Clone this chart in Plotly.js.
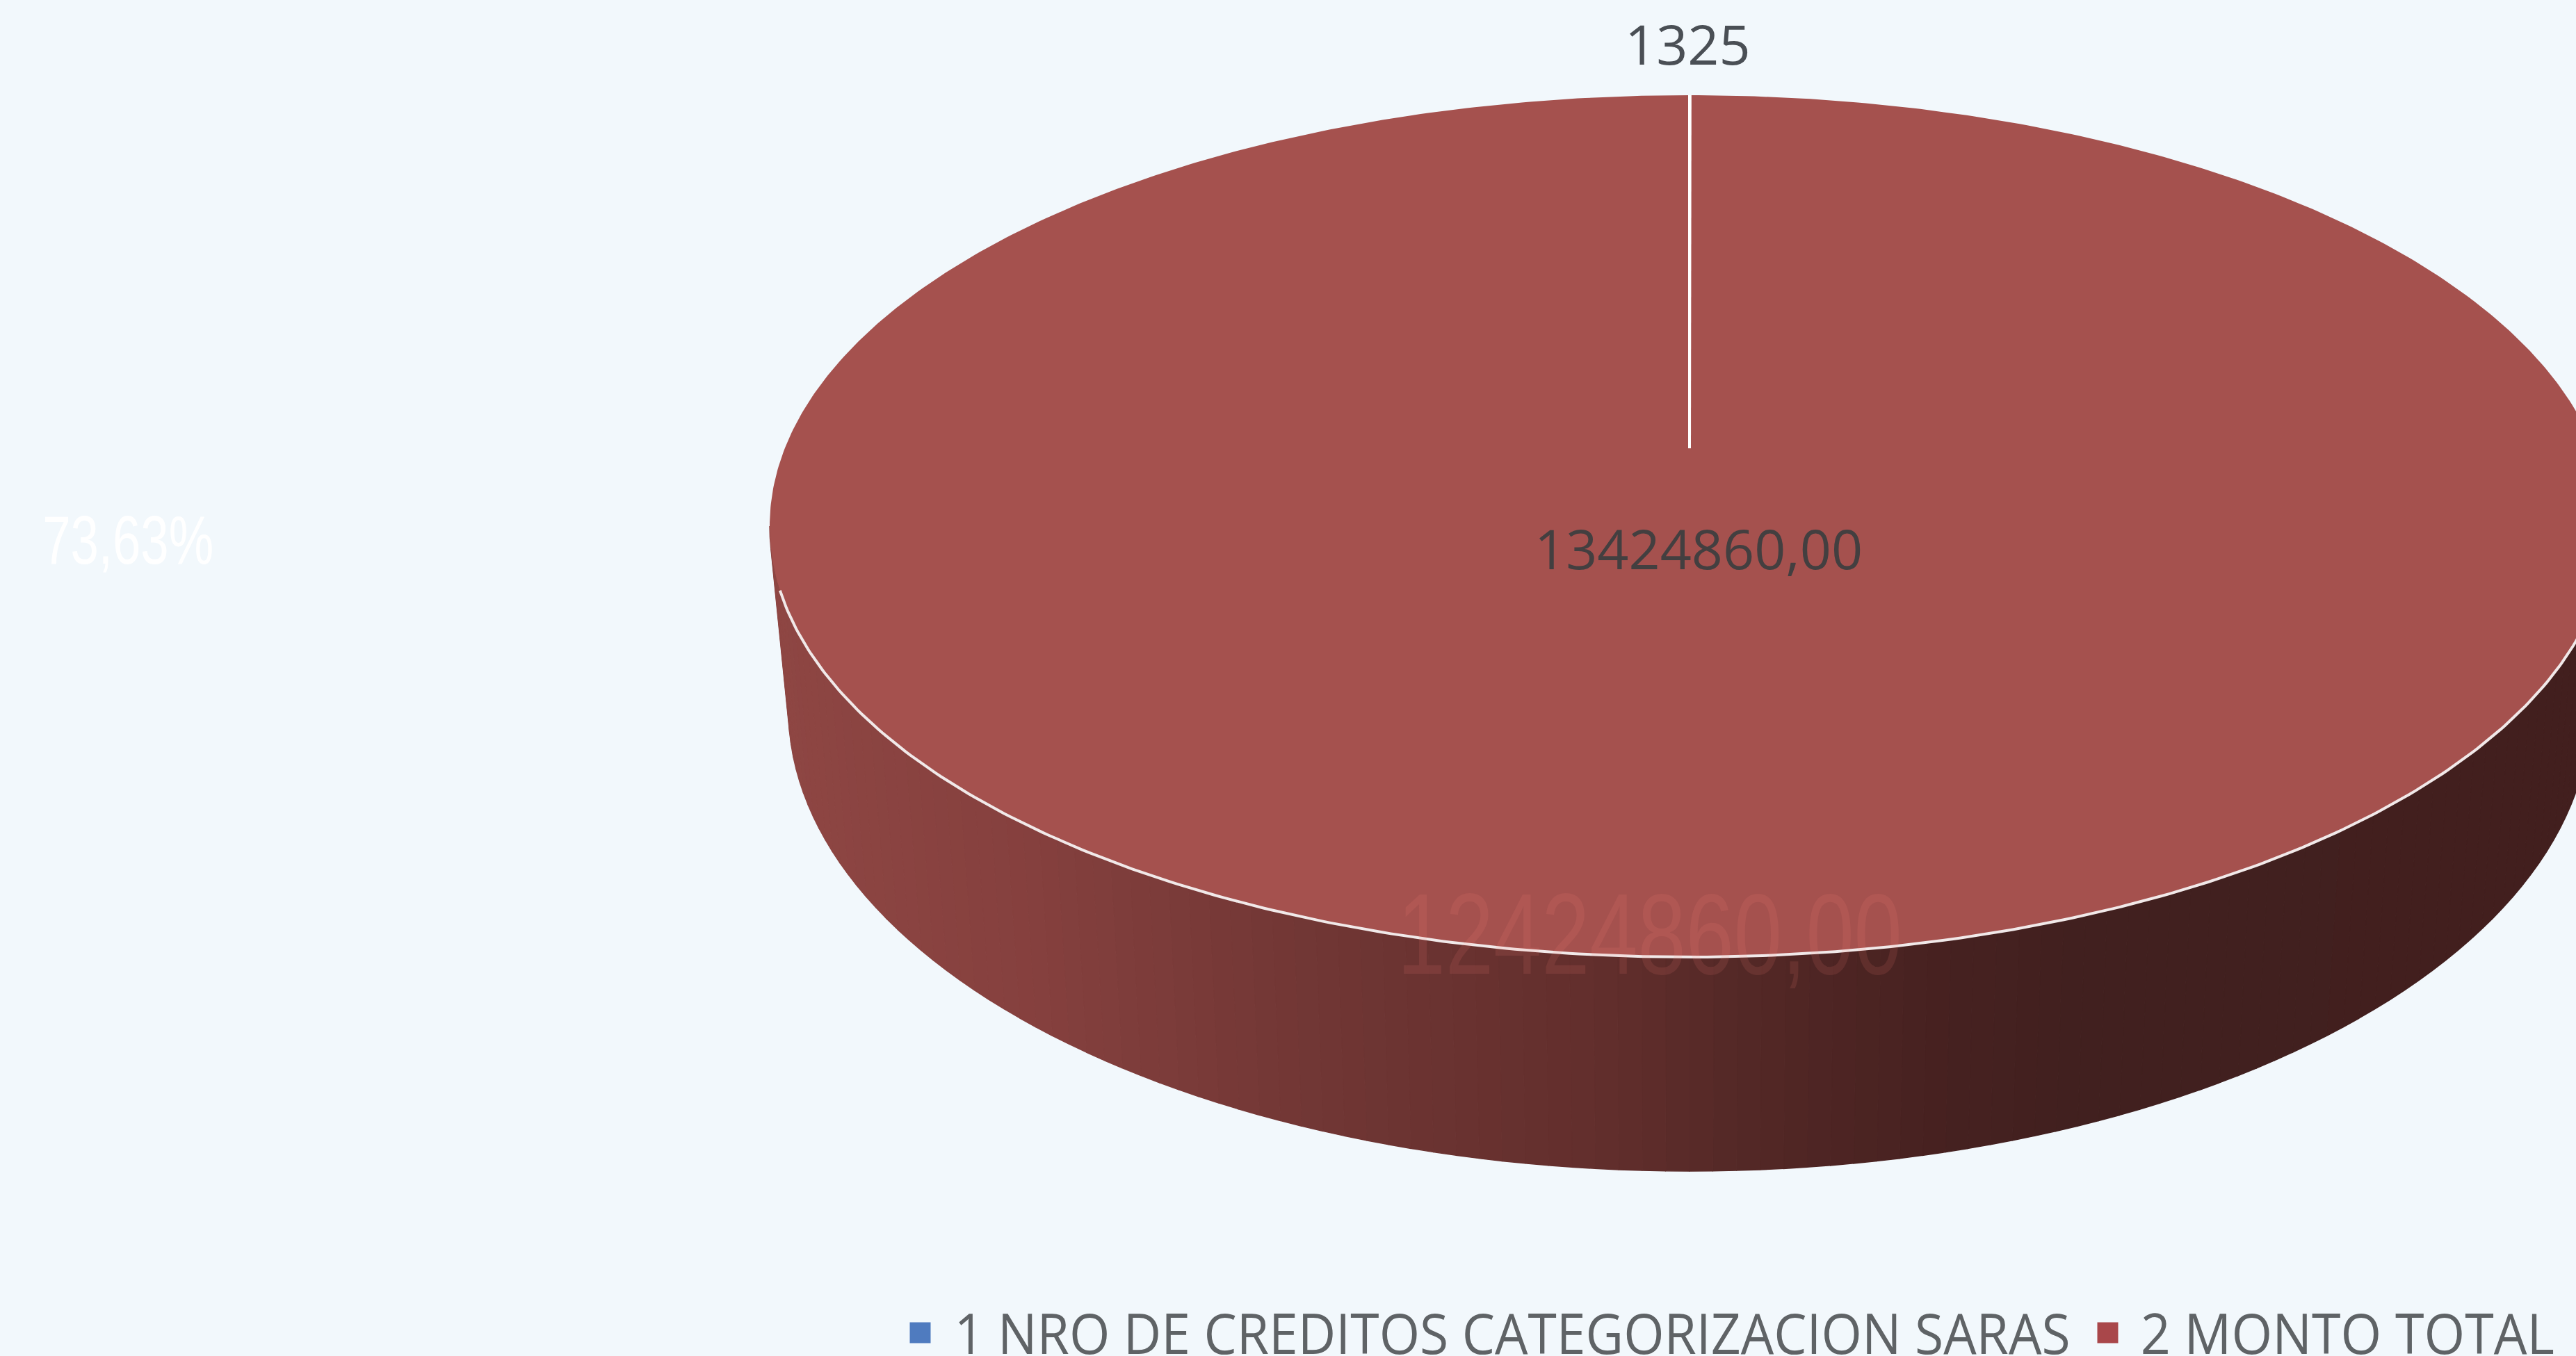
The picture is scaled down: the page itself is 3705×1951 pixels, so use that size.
<!DOCTYPE html>
<html>
<head>
<meta charset="utf-8">
<script src="https://cdn.plot.ly/plotly-3.0.1.min.js"></script>
<style>html,body{margin:0;padding:0;background:#f2f8fc;overflow:hidden}</style>
</head>
<body>
<div id="chart" style="width:3705px;height:1951px"></div>
<script>
const categories = ["1 NRO DE CREDITOS CATEGORIZACION SARAS", "2 MONTO TOTAL"];
const values = [1325, 13424860];
const valueLabels = ["1325", "13424860,00"];
const percentLabel = "73,63%";
const ghostLabel = "12424860,00";
const sliceColors = ["#4f7bbf", "#a5514e"];

const W = 3705, H = 1951;
const cx = 2430, topCy = 757, topA = 1323, topB = 620, apexY = 645;
const botCy = 1020, botA = 1296, botB = 665;
const total = values.reduce((a, b) => a + b, 0);

function topPt(theta) { return [cx + topA * Math.sin(theta), topCy - topB * Math.cos(theta)]; }
function shade(x) {
  const stops = [[1107,[142,70,67]],[1480,[133,64,62]],[1900,[112,54,52]],[2300,[98,46,44]],[2500,[84,40,38]],[2800,[70,33,32]],[3000,[65,32,31]],[3753,[66,31,30]]];
  for (let i = 1; i < stops.length; i++) {
    if (x <= stops[i][0]) {
      const f = (x - stops[i-1][0]) / (stops[i][0] - stops[i-1][0]);
      const c = stops[i][1].map((v, k) => Math.round(stops[i-1][1][k] + f * (v - stops[i-1][1][k])));
      return "rgb(" + c.join(",") + ")";
    }
  }
  return "rgb(66,31,30)";
}

const traces = [];
// side wall
const N = 120;
for (let i = 0; i < N; i++) {
  const t0 = Math.PI * i / N, t1 = Math.PI * (i + 1) / N;
  const xs = [cx + topA*Math.cos(t0), cx + topA*Math.cos(t1), cx + botA*Math.cos(t1), cx + botA*Math.cos(t0)];
  const ys = [topCy + topB*Math.sin(t0), topCy + topB*Math.sin(t1), botCy + botB*Math.sin(t1), botCy + botB*Math.sin(t0)];
  const col = shade((xs[0] + xs[1]) / 2);
  traces.push({type:"scatter", mode:"lines", x:xs, y:ys, fill:"toself", fillcolor:col, line:{color:col, width:1.5}, showlegend:false, hoverinfo:"skip"});
}
// top face: one sector per value
let acc = 0;
const edges = [];
values.forEach((v, i) => {
  const a0 = 2*Math.PI*acc/total, a1 = 2*Math.PI*(acc+v)/total;
  const steps = Math.max(2, Math.ceil((a1-a0)/(2*Math.PI)*720));
  const xs = [cx], ys = [apexY];
  for (let s = 0; s <= steps; s++) {
    const p = topPt(a0 + (a1-a0)*s/steps);
    xs.push(p[0]); ys.push(p[1]);
  }
  xs.push(cx); ys.push(apexY);
  traces.push({type:"scatter", mode:"lines", x:xs, y:ys, fill:"toself", fillcolor:sliceColors[i], line:{width:0}, name:categories[i], showlegend:false, hoverinfo:"name"});
  edges.push(a0);
  acc += v;
});
// rim highlight
const rx = [], ry = [];
for (let t = Math.PI - 0.15; t >= 0.1; t -= 0.01) { rx.push(cx + topA*Math.cos(t)); ry.push(topCy + topB*Math.sin(t)); }
traces.push({type:"scatter", mode:"lines", x:rx, y:ry, line:{color:"#f1e9e9", width:4}, showlegend:false, hoverinfo:"skip"});
// slice borders
edges.forEach(a => {
  const p = topPt(a);
  traces.push({type:"scatter", mode:"lines", x:[cx, p[0]], y:[apexY, p[1]], line:{color:"#ffffff", width:4}, showlegend:false, hoverinfo:"skip"});
});
// legend swatches
traces.push({type:"scatter", mode:"markers", x:[1323.5], y:[1917.5], marker:{symbol:"square", size:30, color:"#4f7bbf"}, showlegend:false, hoverinfo:"skip"});
traces.push({type:"scatter", mode:"markers", x:[3031.5], y:[1917.5], marker:{symbol:"square", size:30, color:"#a9474a"}, showlegend:false, hoverinfo:"skip"});

function ann(text, x, y, size, color, family, weight) {
  return {text, x, y, xref:"x", yref:"y", xanchor:"center", yanchor:"middle", showarrow:false, borderpad:0,
    font:{size, color, family, weight:weight||400}};
}
const OS = "'Open Sans', sans-serif", NARROW = "'Liberation Sans', sans-serif";
const annotations = [
  ann(ghostLabel, 2373, 1344, 165, "rgba(255,130,120,0.12)", NARROW, 400),
  ann(percentLabel, 184, 777, 98, "#ffffff", NARROW),
  ann(valueLabels[0], 2427, 62, 79, "#4a4f55", OS),
  ann(valueLabels[1], 2443, 788, 79, "#433f40", OS),
  ann(categories[0], 2175, 1916, 80, "#5f6366", OS),
  ann(categories[1], 3376, 1916, 80, "#5f6366", OS)
];
const fitWidths = {};
fitWidths[ghostLabel] = 726;
fitWidths[percentLabel] = 246;
fitWidths[categories[0]] = 1605;
fitWidths[categories[1]] = 595;

const layout = {
  width:W, height:H, margin:{l:0,r:0,t:0,b:0,pad:0}, autosize:false,
  paper_bgcolor:"#f2f8fc", plot_bgcolor:"#f2f8fc", showlegend:false,
  xaxis:{range:[0,W], visible:false, fixedrange:true},
  yaxis:{range:[H,0], visible:false, fixedrange:true},
  annotations
};
Plotly.newPlot("chart", traces, layout, {displayModeBar:false, staticPlot:true}).then(() => {
  document.querySelectorAll(".annotation-text").forEach(el => {
    const w = fitWidths[el.textContent];
    if (w) {
      el.setAttribute("textLength", w);
      el.setAttribute("lengthAdjust", "spacingAndGlyphs");
    }
  });
});
</script>
</body>
</html>
